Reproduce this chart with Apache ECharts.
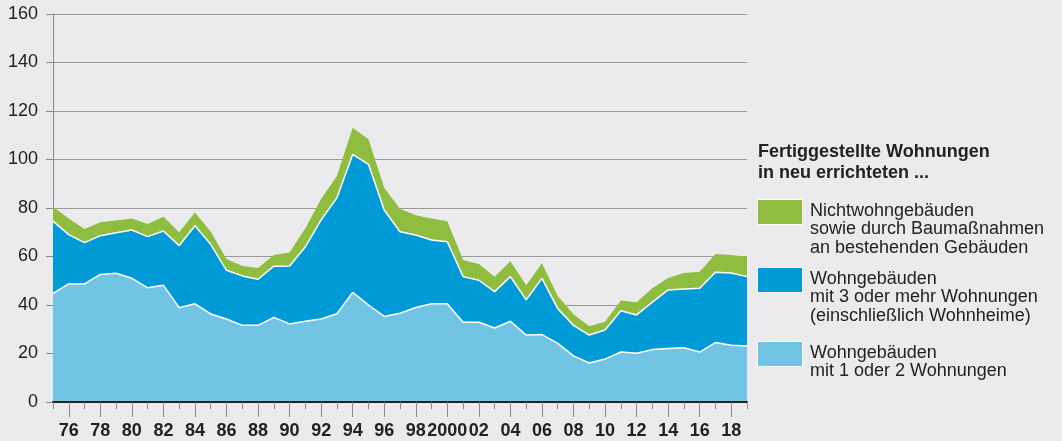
<!DOCTYPE html>
<html>
<head>
<meta charset="utf-8">
<script src="https://cdn.jsdelivr.net/npm/echarts@6/dist/echarts.min.js"></script>
<style>
  html, body { margin: 0; padding: 0; background: #ebebed; }
  #chart { width: 1062px; height: 441px; }
</style>
</head>
<body>
<div id="chart"></div>
<script>
// years 1975..2019
const years = ['1975','1976','1977','1978','1979','1980','1981','1982','1983','1984',
  '1985','1986','1987','1988','1989','1990','1991','1992','1993','1994',
  '1995','1996','1997','1998','1999','2000','2001','2002','2003','2004',
  '2005','2006','2007','2008','2009','2010','2011','2012','2013','2014',
  '2015','2016','2017','2018','2019']

// Wohngebäude mit 1 oder 2 Wohnungen (1000)
const einZwei = [44.8, 48.7, 48.7, 52.6, 53.1, 51.0, 47.1, 48.1, 38.9, 40.5,
  36.3, 34.2, 31.6, 31.6, 34.9, 32.2, 33.3, 34.2, 36.4, 45.2,
  40.0, 35.3, 36.6, 39.0, 40.5, 40.5, 32.9, 32.9, 30.5, 33.3,
  27.6, 27.8, 24.2, 19.0, 16.1, 17.7, 20.6, 20.1, 21.6, 22.1,
  22.4, 20.6, 24.5, 23.4, 23.1]

// Wohngebäude mit 3 oder mehr Wohnungen
const mehr = [29.8, 20.3, 17.0, 16.0, 16.7, 19.9, 21.1, 22.4, 25.6, 32.2,
  28.7, 20.1, 20.4, 19.0, 21.1, 23.9, 30.7, 40.9, 47.8, 56.9,
  58.0, 43.9, 33.6, 29.9, 26.3, 25.6, 18.8, 17.3, 15.0, 18.4,
  14.5, 23.2, 14.3, 12.6, 11.5, 12.0, 17.0, 15.8, 19.6, 24.1,
  24.2, 26.3, 29.0, 29.8, 28.6]

// Nichtwohngebäude / Baumaßnahmen an bestehenden Gebäuden
const nichtwohn = [5.9, 6.7, 5.6, 5.5, 5.0, 4.8, 5.2, 5.9, 5.5, 5.4,
  5.2, 4.7, 4.1, 4.7, 4.6, 5.6, 7.6, 8.6, 9.0, 11.0,
  10.3, 9.2, 9.5, 8.1, 8.9, 8.4, 6.9, 6.7, 6.2, 6.3,
  6.0, 6.2, 5.2, 4.6, 3.6, 3.4, 4.3, 5.2, 5.7, 4.9,
  6.6, 6.8, 7.5, 7.4, 8.2]

const legendTitle = ['Fertiggestellte Wohnungen', 'in neu errichteten ...']
const legendNames = [
  'Nichtwohngebäuden\nsowie durch Baumaßnahmen\nan bestehenden Gebäuden',
  'Wohngebäuden\nmit 3 oder mehr Wohnungen\n(einschließlich Wohnheime)',
  'Wohngebäuden\nmit 1 oder 2 Wohnungen'
]

const colors = { light: '#71c4e4', blue: '#009bd6', green: '#8fbd3f' }
const font = '"Liberation Sans", Arial, sans-serif'

const chart = echarts.init(document.getElementById('chart'))

// labels and long ticks only on even years
const isEven = (idx) => idx % 2 === 1
const shortYear = (v) => (v === '2000' ? '2000' : v.slice(2))

const option = {
  backgroundColor: '#ebebed',
  animation: false,
  textStyle: { fontFamily: font },
  grid: { left: 53, right: 315, top: 14, bottom: 39 },
  xAxis: [
    {
      type: 'category',
      boundaryGap: false,
      data: years,
      axisLine: { show: true, lineStyle: { color: '#1f1f1f', width: 2 } },
      axisTick: { show: true, interval: 0, length: 7, lineStyle: { color: '#8a8a8a' } },
      axisLabel: { show: false },
      splitLine: { show: false },
      z: 10,
    },
    {
      type: 'category',
      boundaryGap: false,
      data: years,
      position: 'bottom',
      axisLine: { show: false },
      axisTick: { show: true, interval: isEven, length: 15, lineStyle: { color: '#8a8a8a' } },
      axisLabel: {
        interval: isEven,
        formatter: shortYear,
        color: '#222',
        fontSize: 18,
        fontWeight: 'bold',
        margin: 20,
        fontFamily: font,
      },
    },
  ],
  yAxis: {
    type: 'value',
    min: 0,
    max: 160,
    interval: 20,
    axisLine: { show: true, lineStyle: { color: '#8a8a8a' } },
    axisTick: { show: true, length: 7, lineStyle: { color: '#8a8a8a' } },
    axisLabel: { color: '#222', fontSize: 18, margin: 15, fontFamily: font },
    splitLine: { lineStyle: { color: '#9a9a9a', width: 1 } },
  },
  series: [
    {
      name: legendNames[2],
      type: 'line',
      stack: 'total',
      data: einZwei,
      symbol: 'none',
      lineStyle: { color: '#ffffff', width: 1.5 },
      areaStyle: { color: colors.light, opacity: 1 },
      z: 3,
    },
    {
      name: legendNames[1],
      type: 'line',
      stack: 'total',
      data: mehr,
      symbol: 'none',
      lineStyle: { color: '#ffffff', width: 1.5 },
      areaStyle: { color: colors.blue, opacity: 1 },
      z: 2,
    },
    {
      name: legendNames[0],
      type: 'line',
      stack: 'total',
      data: nichtwohn,
      symbol: 'none',
      lineStyle: { width: 0 },
      areaStyle: { color: colors.green, opacity: 1 },
      z: 1,
    },
  ],
  graphic: [
    {
      type: 'text',
      left: 758,
      top: 142,
      style: {
        text: legendTitle.join('\n'),
        font: 'bold 18px ' + font,
        fill: '#222',
        lineHeight: 21,
      },
    },
    { type: 'rect', left: 757, top: 199, shape: { width: 45, height: 25 }, style: { fill: colors.green, stroke: '#fff', lineWidth: 1 } },
    { type: 'rect', left: 757, top: 267, shape: { width: 45, height: 25 }, style: { fill: colors.blue, stroke: '#fff', lineWidth: 1 } },
    { type: 'rect', left: 757, top: 341, shape: { width: 45, height: 25 }, style: { fill: colors.light, stroke: '#fff', lineWidth: 1 } },
    {
      type: 'text', left: 810, top: 202,
      style: { text: legendNames[0], font: '18px ' + font, fill: '#222', lineHeight: 18.3 },
    },
    {
      type: 'text', left: 810, top: 270,
      style: { text: legendNames[1], font: '18px ' + font, fill: '#222', lineHeight: 18.3 },
    },
    {
      type: 'text', left: 810, top: 344,
      style: { text: legendNames[2], font: '18px ' + font, fill: '#222', lineHeight: 18.3 },
    },
  ],
}

chart.setOption(option)
</script>
</body>
</html>
